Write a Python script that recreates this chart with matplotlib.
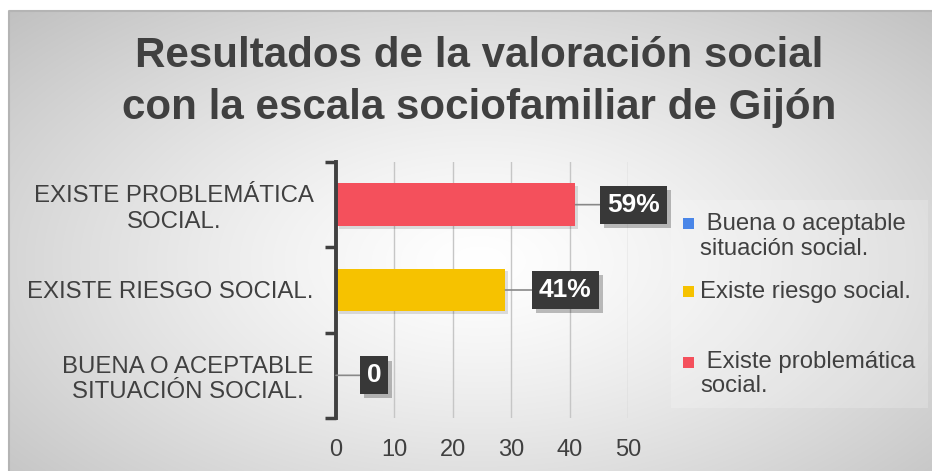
import numpy as np
import matplotlib
matplotlib.use("Agg")
import matplotlib.pyplot as plt
from matplotlib.patches import Rectangle
import matplotlib.patheffects as pe

plt.rcParams['font.family'] = ['Liberation Sans', 'DejaVu Sans']

# ---- data ----
categories = ["BUENA O ACEPTABLE\nSITUACIÓN SOCIAL.",
              "EXISTE RIESGO SOCIAL.",
              "EXISTE PROBLEMÁTICA\nSOCIAL."]
values = [0, 29, 41]
value_labels = ["0", "41%", "59%"]
legend_labels = [" Buena o aceptable\nsituación social.",
                 "Existe riesgo social.",
                 " Existe problemática\nsocial."]
colors = ["#4A86E8", "#F6C200", "#F4505C"]
x_ticks = [0, 10, 20, 30, 40, 50]
title = "Resultados de la valoración social\ncon la escala sociofamiliar de Gijón"

W, H = 932, 471
fig = plt.figure(figsize=(W / 100, H / 100), dpi=100)
fig.patch.set_facecolor("white")

# ---- background radial gradient ----
bg = fig.add_axes([9 / W, 0, (W - 9) / W, (H - 11) / H], zorder=-5)
yy, xx = np.mgrid[0:460, 0:923]
cx, cy = 470, 250
r = np.sqrt(((xx - cx) / 470.0) ** 2 + ((yy - cy) / 260.0) ** 2)
v = np.clip(1 - 0.16 * r ** 1.3, 0, 1)
img = np.dstack([v, v, v])
bg.imshow(img, aspect="auto", extent=[0, 1, 0, 1], origin="upper")
bg.set_xlim(0, 1)
bg.set_ylim(0, 1)
bg.axis("off")
bg.plot([0, 0, 1], [0, 1, 1], color="#b4b4b4", lw=1.5, transform=bg.transAxes, clip_on=False)

# ---- title ----
fig.text(479 / W, 1 - 82 / H, title, ha="center", va="center", fontsize=30.3,
         fontweight="bold", color="#404040", linespacing=1.36)

# ---- main axes ----
ax = fig.add_axes([336 / W, 53 / H, 292 / W, 256 / H])
ax.set_facecolor("none")
ypos = np.arange(len(categories))
bars = ax.barh(ypos, values, height=0.5, color=colors, zorder=3)
for b in bars:
    b.set_path_effects([pe.SimplePatchShadow(offset=(2, -2), shadow_rgbFace="#000000", alpha=0.12),
                        pe.Normal()])
ax.set_xlim(0, 50)
ax.set_ylim(-0.5, 2.5)
ax.set_xticks(x_ticks)
ax.set_xticklabels([str(t) for t in x_ticks])
ax.set_yticks(ypos)
ax.set_yticklabels(categories, multialignment="center")
ax.tick_params(axis="x", length=0, pad=15, labelsize=17, labelcolor="#404040")
ax.tick_params(axis="y", which="major", length=0, pad=16, labelsize=17.3, labelcolor="#404040")
ax.set_yticks([-0.5, 0.5, 1.5, 2.5], minor=True)
ax.tick_params(axis="y", which="minor", length=8, width=2.5, color="#404040", direction="out")
ax.grid(axis="x", color="#c6c6c6", lw=1, zorder=0)
for s in ["top", "right", "bottom"]:
    ax.spines[s].set_visible(False)
ax.spines["left"].set_color("#404040")
ax.spines["left"].set_linewidth(2.8)
ax.spines["left"].set_zorder(4)

# ---- data labels ----
offsets = [38, 60, 58]  # px
for yv, val, lab, off in zip(ypos, values, value_labels, offsets):
    t = ax.annotate(lab, xy=(val, yv), xytext=(off * 0.72, 0), textcoords="offset points",
                    ha="center", va="center", fontsize=19, fontweight="bold", color="white",
                    bbox=dict(boxstyle="square,pad=0.26", fc="#383838", ec="none"),
                    arrowprops=dict(arrowstyle="-", color="#888888", lw=1.2, shrinkA=0, shrinkB=0),
                    zorder=6)
    t.get_bbox_patch().set_path_effects([
        pe.SimplePatchShadow(offset=(3, -3), shadow_rgbFace="#000000", alpha=0.25), pe.Normal()])

# ---- legend ----
fig.patches.append(Rectangle((671 / W, 1 - 408 / H), 257 / W, 208 / H, transform=fig.transFigure,
                             facecolor="white", alpha=0.2, edgecolor="none", zorder=1))
leg_marker_y = [223, 291, 362]
leg_text_y = [236.5, 292, 374]
for lab, col, my, ty in zip(legend_labels, colors, leg_marker_y, leg_text_y):
    fig.patches.append(Rectangle((683 / W, 1 - (my + 5.5) / H), 11 / W, 11 / H,
                                 transform=fig.transFigure, facecolor=col, edgecolor="none", zorder=2))
    fig.text(700 / W, 1 - ty / H, lab, ha="left", va="center", fontsize=17.2,
             color="#404040", linespacing=1.15, zorder=3)

fig.savefig("out.png", dpi=100)
